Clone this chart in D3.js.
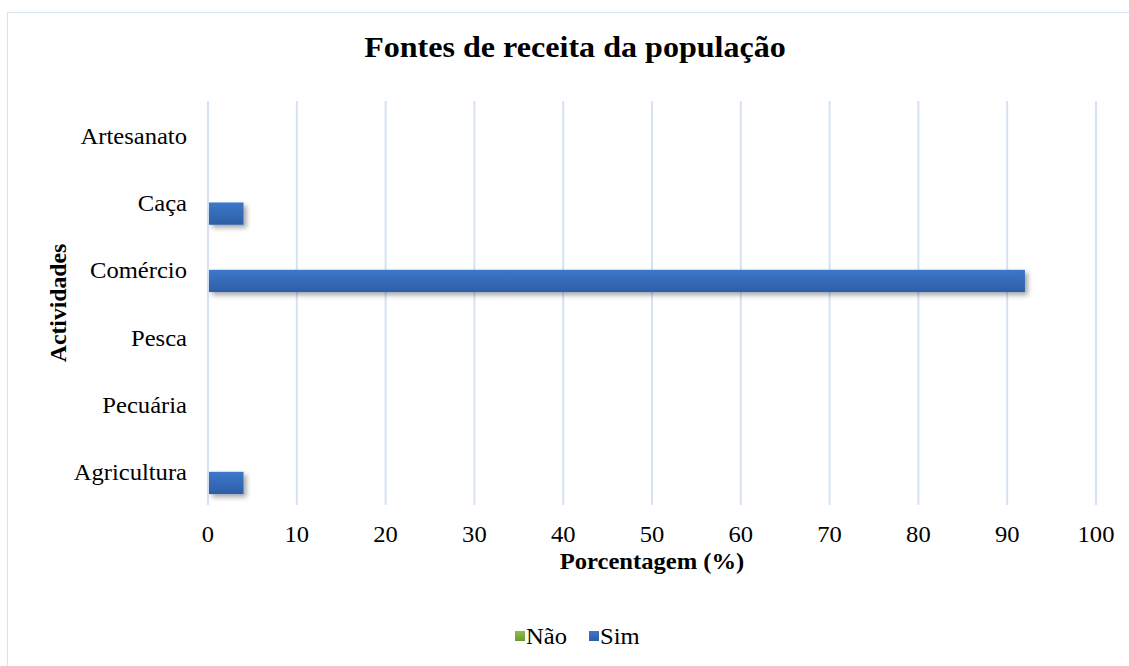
<!DOCTYPE html>
<html>
<head>
<meta charset="utf-8">
<script src="https://cdn.jsdelivr.net/npm/d3@7"></script>
<style>
  body { margin: 0; background: #fff; }
  text { font-family: "Liberation Serif", "Times New Roman", serif; fill: #000; }
</style>
</head>
<body>
<svg id="chart"></svg>
<script>
// data, bottom to top as in the reference
var categories = ["Agricultura", "Pecuária", "Pesca", "Comércio", "Caça", "Artesanato"];
var seriesNames = ["Não", "Sim"];
var naoValues = [0, 0, 0, 0, 0, 0];
var simValues = [4, 0, 0, 92, 4, 0];
var xTicks = [0, 10, 20, 30, 40, 50, 60, 70, 80, 90, 100];

var width = 1129, height = 666;
var margin = {top: 101, bottom: 161, left: 208, right: 33};
var sx = 1.07; // the original chart is a little wider than tall

function place(px, py) { return "translate(" + px + "," + py + ") scale(" + sx + ",1)"; }

var svg = d3.select("#chart").attr("width", width).attr("height", height);

var defs = svg.append("defs");
var gBlue = defs.append("linearGradient").attr("id", "gBlue").attr("x1", 0).attr("y1", 0).attr("x2", 0).attr("y2", 1);
gBlue.append("stop").attr("offset", "0%").attr("stop-color", "#3d78cc");
gBlue.append("stop").attr("offset", "100%").attr("stop-color", "#2d5ea6");
var gGreen = defs.append("linearGradient").attr("id", "gGreen").attr("x1", 0).attr("y1", 0).attr("x2", 0).attr("y2", 1);
gGreen.append("stop").attr("offset", "0%").attr("stop-color", "#8cc04a");
gGreen.append("stop").attr("offset", "100%").attr("stop-color", "#6a9a30");
var shadow = defs.append("filter").attr("id", "shadow").attr("x", "-10%").attr("y", "-30%").attr("width", "130%").attr("height", "180%");
shadow.append("feDropShadow").attr("dx", 3).attr("dy", 3).attr("stdDeviation", 2.5)
  .attr("flood-color", "#000").attr("flood-opacity", 0.35);

// outer frame
svg.append("rect")
  .attr("x", 7.5).attr("y", 12.5)
  .attr("width", width + 10).attr("height", height + 10)
  .attr("fill", "none").attr("stroke", "#d9e4f2").attr("stroke-width", 1.2);

var x = d3.scaleLinear().domain([0, 100]).range([margin.left, width - margin.right]);
var y = d3.scaleBand().domain(categories).range([height - margin.bottom, margin.top]);
var sub = d3.scaleBand().domain(seriesNames).range([0, y.bandwidth()]).paddingInner(0.04).paddingOuter(0.47);

// gridlines
svg.append("g").selectAll("line")
  .data(xTicks)
  .enter().append("line")
    .attr("x1", d => x(d)).attr("x2", d => x(d))
    .attr("y1", margin.top).attr("y2", height - margin.bottom)
    .attr("stroke", "#d6e2f3").attr("stroke-width", 2);

// x tick labels
svg.append("g").selectAll("text")
  .data(xTicks)
  .enter().append("text")
    .attr("transform", d => place(x(d), 542))
    .attr("text-anchor", "middle")
    .style("font-size", "23px")
    .text(d => d);

// category labels
svg.append("g").selectAll("text")
  .data(categories)
  .enter().append("text")
    .attr("transform", d => place(187, y(d) + y.bandwidth() / 2 + 9))
    .attr("text-anchor", "end")
    .style("font-size", "23px")
    .text(d => d);

// bars: Não above, Sim below within each band
var rows = categories.map(function (c, i) {
  return [{cat: c, s: "Não", v: naoValues[i]}, {cat: c, s: "Sim", v: simValues[i]}];
}).flat();

svg.append("g").selectAll("rect")
  .data(rows.filter(d => d.v > 0))
  .enter().append("rect")
    .attr("x", x(0) + 1)
    .attr("y", d => y(d.cat) + sub(d.s))
    .attr("width", d => x(d.v) - x(0) - 1)
    .attr("height", sub.bandwidth())
    .attr("fill", d => d.s === "Sim" ? "url(#gBlue)" : "url(#gGreen)")
    .attr("filter", "url(#shadow)");

// titles
svg.append("text")
  .attr("transform", place(575, 57))
  .attr("text-anchor", "middle")
  .style("font-size", "30px").style("font-weight", "bold")
  .text("Fontes de receita da população");

svg.append("text")
  .attr("transform", place((x(0) + x(100)) / 2, 569))
  .attr("text-anchor", "middle")
  .style("font-size", "23px").style("font-weight", "bold")
  .text("Porcentagem (%)");

svg.append("text")
  .attr("transform", "translate(66," + ((margin.top + height - margin.bottom) / 2) + ") rotate(-90) scale(1.03,1)")
  .attr("text-anchor", "middle")
  .style("font-size", "23px").style("font-weight", "bold")
  .text("Actividades");

// legend
var items = [{name: "Não", fill: "url(#gGreen)", x: 515}, {name: "Sim", fill: "url(#gBlue)", x: 589}];
var li = svg.append("g").selectAll("g").data(items).enter().append("g");
li.append("rect").attr("x", d => d.x).attr("y", 631).attr("width", 10).attr("height", 10).attr("fill", d => d.fill);
li.append("text").attr("transform", d => place(d.x + 11, 644)).style("font-size", "23px").text(d => d.name);
</script>
</body>
</html>
